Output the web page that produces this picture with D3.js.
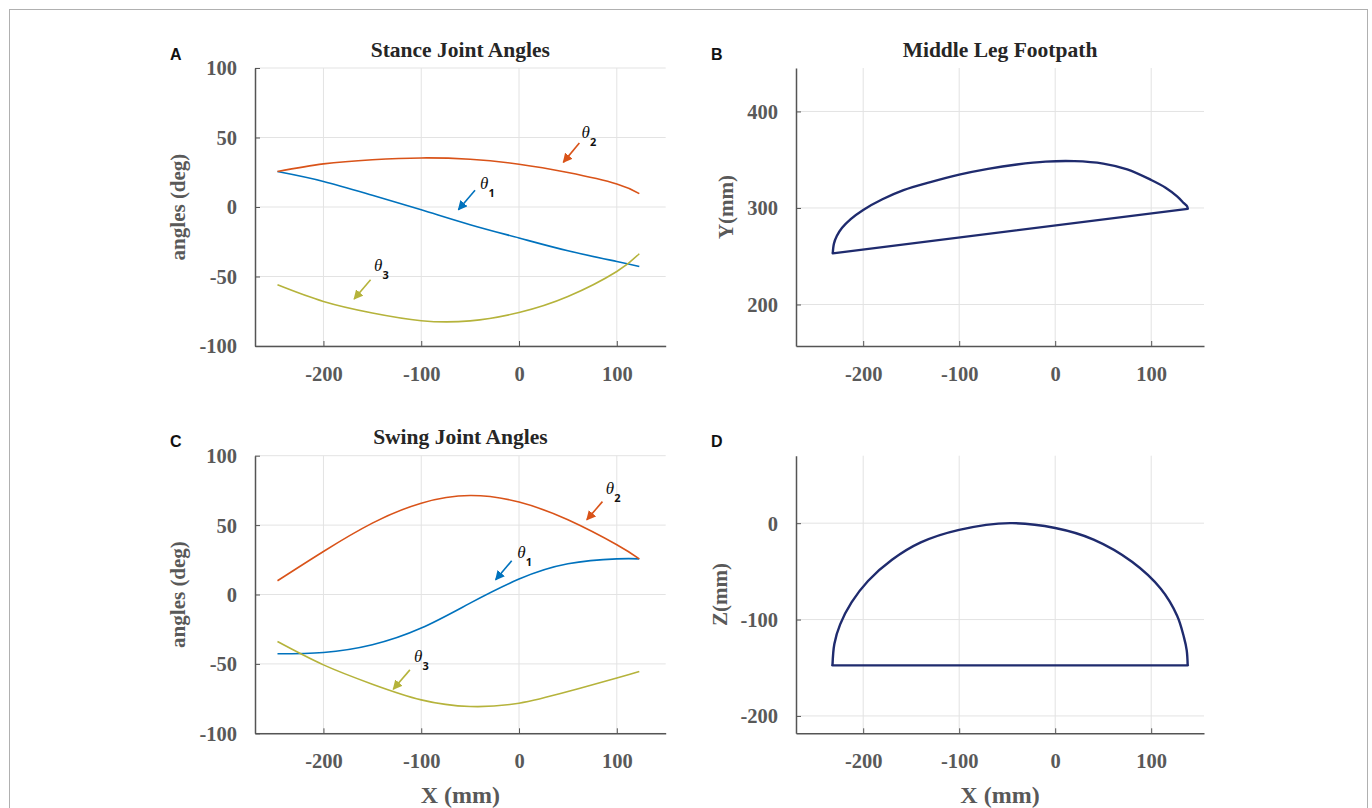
<!DOCTYPE html>
<html>
<head>
<meta charset="utf-8">
<script src="https://cdn.jsdelivr.net/npm/d3@7"></script>
<style>
  body { margin: 0; background: #fff; }
  svg { display: block; }
</style>
</head>
<body>
<svg id="fig" width="1372" height="808"></svg>
<script>

// tick values
var xTicks = [-200, -100, 0, 100];
var angleTicks = [-100, -50, 0, 50, 100];
var footYTicks = [200, 300, 400];
var footZTicks = [-200, -100, 0];

// stance phase joint angles (deg) against foot X (mm)
var stanceX      = [-247, -200, -150, -100, -50, 0, 50, 100, 123];
var stanceTheta1 = [25.5, 18.4, 8.4, -2, -12.7, -22.3, -31.5, -39.2, -42.8];
var stanceTheta2 = [25.5, 31, 34, 35.3, 34.3, 30.8, 24.8, 16.6, 9.6];
var stanceTheta3 = [-56, -68, -76.3, -81.8, -81.9, -75.9, -64.4, -46.4, -33.6];

// swing phase joint angles (deg)
var swingX      = [-247, -200, -150, -100, -50, 0, 50, 100, 123];
var swingTheta1 = [-42.7, -41.8, -36.2, -24.2, -6.2, 11.1, 22.1, 25.7, 25.7];
var swingTheta2 = [9.9, 31, 51.4, 65.8, 71.3, 66.6, 53.8, 35.8, 25.7];
var swingTheta3 = [-33.9, -50.7, -64.6, -75.9, -80.7, -78.3, -69.9, -60.2, -55.5];

// middle leg footpath, top view (X, Y) and side view (X, Z), mm
var pathTopX = [-231.7, -230.5, -227.5, -222, -213, -200, -180, -158, -130, -100, -70, -40, -10, 20, 50, 75, 100, 115, 127, 134, 137.5, 138];
var pathTopY = [253, 263, 271, 279.5, 288.5, 298, 309, 318.5, 326.8, 334.5, 340.5, 345, 348, 348.5, 346, 340, 329, 321, 312, 305, 301.5, 299];
var pathSideX = [-232, -230, -224, -212, -195, -170, -140, -100, -47, 0, 40, 80, 110, 127, 134, 137, 138];
var pathSideZ = [-147.5, -125, -105, -82, -60, -38, -20, -7, 0, -5, -17, -40, -68, -96, -118, -132, -147.5];

// theta annotations: label anchor and arrow tail/head, in data units
var stanceNotes = [
  {sub: "1", lx: -40, ly: 13, tx: -45, ty: 12, hx: -62, hy: -2, c: 0},
  {sub: "2", lx: 64, ly: 50, tx: 61.7, ty: 46.1, hx: 45.3, hy: 32.1, c: 1},
  {sub: "3", lx: -148.4, ly: -46.4, tx: -151.8, ty: -52.3, hx: -168.6, hy: -66.2, c: 2}
];
var swingNotes = [
  {sub: "1", lx: -1.7, ly: 26.2, tx: -7.5, ty: 24.3, hx: -23.9, hy: 10.6, c: 0},
  {sub: "2", lx: 88.7, ly: 72.3, tx: 85.3, ty: 66.9, hx: 69.3, hy: 53.8, c: 1},
  {sub: "3", lx: -107.5, ly: -48.7, tx: -111.6, ty: -54.3, hx: -128.6, hy: -68.2, c: 2}
];

var colors = ["#0072BD", "#D95319", "#B5B33B"];
var navy = "#1F2B6E";
var serif = "'Liberation Serif', 'Times New Roman', serif";

var svg = d3.select("#fig");

// outer frame
svg.append("rect").attr("x", 9.5).attr("y", 9.5)
  .attr("width", 1358).attr("height", 820)
  .attr("fill", "none").attr("stroke", "#b0b0b0");

var defs = svg.append("defs");
colors.forEach(function(c, i){
  defs.append("marker")
    .attr("id", "head" + i)
    .attr("viewBox", "0 0 10 10")
    .attr("refX", 9).attr("refY", 5)
    .attr("markerWidth", 6).attr("markerHeight", 6)
    .attr("markerUnits", "strokeWidth")
    .attr("orient", "auto")
    .append("path").attr("d", "M0,0 L10,5 L0,10 z").attr("fill", c);
});

function plain(d){ return String(d); }

function panel(opt){
  var x = d3.scaleLinear().domain(opt.xDomain).range([opt.left, opt.right]);
  var y = d3.scaleLinear().domain(opt.yDomain).range([opt.bottom, opt.top]);
  var g = svg.append("g");

  // grid
  g.selectAll(".gx").data(xTicks).enter().append("line")
    .attr("x1", function(d){ return x(d); }).attr("x2", function(d){ return x(d); })
    .attr("y1", opt.top).attr("y2", opt.bottom)
    .attr("stroke", "#e3e3e3").attr("stroke-width", 1);
  g.selectAll(".gy").data(opt.yTicks).enter().append("line")
    .attr("x1", opt.left).attr("x2", opt.right)
    .attr("y1", function(d){ return y(d); }).attr("y2", function(d){ return y(d); })
    .attr("stroke", "#e3e3e3").attr("stroke-width", 1);

  // axes with inward ticks
  var ax = g.append("g").attr("transform", "translate(0," + opt.bottom + ")")
    .call(d3.axisBottom(x).tickValues(xTicks).tickSize(-5).tickSizeOuter(0).tickFormat(plain));
  var ay = g.append("g").attr("transform", "translate(" + opt.left + ",0)")
    .call(d3.axisLeft(y).tickValues(opt.yTicks).tickSize(-5).tickSizeOuter(0).tickFormat(plain));
  [ax, ay].forEach(function(a){
    a.select(".domain").attr("stroke", "#555").attr("stroke-width", 1.5);
    a.selectAll(".tick line").attr("stroke", "#555");
    a.selectAll("text").attr("fill", "#595959").attr("font-family", serif)
      .attr("font-weight", "bold").attr("font-size", 20.5);
  });
  ax.selectAll("text").attr("y", 0).attr("dy", 0).attr("transform", "translate(0,34.7)");
  ay.selectAll("text").attr("x", -18).attr("dy", "0.34em");

  if (opt.title) {
    svg.append("text").attr("x", (opt.left + opt.right) / 2).attr("y", opt.top - 11.5)
      .attr("text-anchor", "middle").attr("font-family", serif).attr("font-weight", "bold")
      .attr("font-size", 21.5).attr("fill", "#262626").text(opt.title);
  }
  svg.append("text")
    .attr("transform", "translate(" + opt.yLabelX + "," + ((opt.top + opt.bottom) / 2) + ") rotate(-90)")
    .attr("text-anchor", "middle").attr("font-family", serif).attr("font-weight", "bold")
    .attr("font-size", 21).attr("fill", "#595959").text(opt.yLabel);
  if (opt.xLabel) {
    svg.append("text").attr("x", (opt.left + opt.right) / 2).attr("y", opt.bottom + 69.5)
      .attr("text-anchor", "middle").attr("font-family", serif).attr("font-weight", "bold")
      .attr("font-size", 24).attr("fill", "#595959").text(opt.xLabel);
  }
  svg.append("text").attr("x", opt.left - 85).attr("y", opt.top - 8.5)
    .attr("font-family", "'Liberation Sans', Arial, sans-serif").attr("font-weight", "bold")
    .attr("font-size", 16).attr("fill", "#111").text(opt.letter);

  return {x: x, y: y, g: g};
}

function anglePanel(opt, xs, series, notes){
  var p = panel(opt);
  var line = d3.line().curve(d3.curveNatural)
    .x(function(d){ return p.x(d[0]); }).y(function(d){ return p.y(d[1]); });
  series.forEach(function(s, i){
    p.g.append("path").datum(xs.map(function(v, k){ return [v, s[k]]; }))
      .attr("d", line).attr("fill", "none").attr("stroke", colors[i]).attr("stroke-width", 1.6);
  });
  notes.forEach(function(n){
    p.g.append("line")
      .attr("x1", p.x(n.tx)).attr("y1", p.y(n.ty))
      .attr("x2", p.x(n.hx)).attr("y2", p.y(n.hy))
      .attr("stroke", colors[n.c]).attr("stroke-width", 1.6)
      .attr("marker-end", "url(#head" + n.c + ")");
    p.g.append("text").attr("x", p.x(n.lx)).attr("y", p.y(n.ly))
      .attr("font-family", serif).attr("font-style", "italic").attr("font-size", 17)
      .attr("fill", "#111").text("θ");
    p.g.append("text").attr("x", p.x(n.lx) + 8.5).attr("y", p.y(n.ly) + 8)
      .attr("font-family", "'Open Sans', sans-serif").attr("font-weight", "bold").attr("font-size", 11)
      .attr("fill", "#111").text(n.sub);
  });
}

function pathPanel(opt, xs, ys){
  var p = panel(opt);
  var arc = d3.line().curve(d3.curveCatmullRom.alpha(0.5))
    .x(function(d){ return p.x(d[0]); }).y(function(d){ return p.y(d[1]); });
  var pts = xs.map(function(v, k){ return [v, ys[k]]; });
  p.g.append("path").datum(pts).attr("d", arc)
    .attr("fill", "none").attr("stroke", navy).attr("stroke-width", 2.4).attr("stroke-linejoin", "round");
  p.g.append("path").datum([pts[pts.length - 1], pts[0]]).attr("d", d3.line()
      .x(function(d){ return p.x(d[0]); }).y(function(d){ return p.y(d[1]); }))
    .attr("fill", "none").attr("stroke", navy).attr("stroke-width", 2.4).attr("stroke-linecap", "round");
}

anglePanel({letter: "A", title: "Stance Joint Angles", yLabel: "angles (deg)", yLabelX: 185,
  xDomain: [-270, 150], yDomain: [-100, 100], yTicks: angleTicks,
  left: 255, right: 665.7, top: 68, bottom: 346},
  stanceX, [stanceTheta1, stanceTheta2, stanceTheta3], stanceNotes);

pathPanel({letter: "B", title: "Middle Leg Footpath", yLabel: "Y(mm)", yLabelX: 733,
  xDomain: [-270, 155], yDomain: [157, 445], yTicks: footYTicks,
  left: 796, right: 1204, top: 68, bottom: 346},
  pathTopX, pathTopY);

anglePanel({letter: "C", title: "Swing Joint Angles", yLabel: "angles (deg)", yLabelX: 185, xLabel: "X (mm)",
  xDomain: [-270, 150], yDomain: [-100, 100], yTicks: angleTicks,
  left: 255, right: 665.7, top: 455.7, bottom: 733.3},
  swingX, [swingTheta1, swingTheta2, swingTheta3], swingNotes);

pathPanel({letter: "D", title: null, yLabel: "Z(mm)", yLabelX: 727, xLabel: "X (mm)",
  xDomain: [-270, 155], yDomain: [-218, 70], yTicks: footZTicks,
  left: 796, right: 1204, top: 455.7, bottom: 733.3},
  pathSideX, pathSideZ);

</script>
</body>
</html>
